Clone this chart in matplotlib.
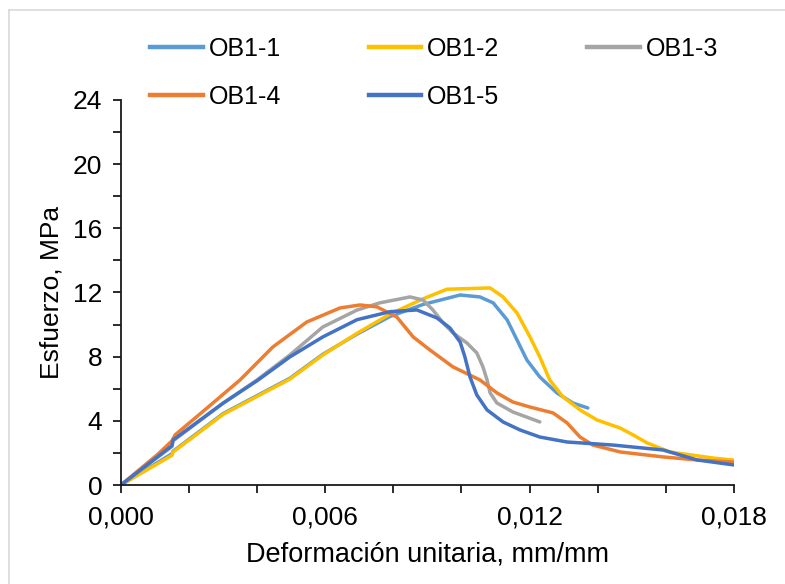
import matplotlib.pyplot as plt
from matplotlib.ticker import MultipleLocator, FuncFormatter
from matplotlib.lines import Line2D

plt.rcParams['font.family'] = ['Liberation Sans', 'DejaVu Sans']

# Curvas esfuerzo-deformación (deformación mm/mm, esfuerzo MPa)
x_ob1_1 = [0, 0.0015, 0.00153, 0.003, 0.00496, 0.00593, 0.00693, 0.0079, 0.00887,
           0.00996, 0.01054, 0.01093, 0.01134, 0.01163, 0.01192, 0.0123, 0.0128,
           0.01327, 0.01371]
y_ob1_1 = [0, 1.95, 2.1, 4.45, 6.65, 8.15, 9.4, 10.5, 11.25,
           11.84, 11.72, 11.35, 10.29, 9.04, 7.79, 6.73, 5.74,
           5.11, 4.8]

x_ob1_2 = [0, 0.0015, 0.00153, 0.003, 0.00496, 0.00593, 0.00693, 0.0079, 0.00887,
           0.00957, 0.01084, 0.01122, 0.01163, 0.01201, 0.0123, 0.01259, 0.01298,
           0.01348, 0.01398, 0.01466, 0.01504, 0.01545, 0.01612, 0.01739, 0.018]
y_ob1_2 = [0, 1.85, 2.05, 4.4, 6.6, 8.1, 9.45, 10.65, 11.6,
           12.2, 12.28, 11.72, 10.72, 9.23, 7.98, 6.55, 5.49,
           4.68, 4.05, 3.55, 3.12, 2.62, 2.06, 1.68, 1.55]

x_ob1_3 = [0, 0.0015, 0.00153, 0.003, 0.004, 0.00496, 0.00593, 0.00693, 0.0076,
           0.00849, 0.00887, 0.00916, 0.00946, 0.00975, 0.01016, 0.01045, 0.01063,
           0.01075, 0.01084, 0.01104, 0.01151, 0.0123]
y_ob1_3 = [0, 2.4, 2.75, 5.1, 6.55, 8.1, 9.85, 10.9, 11.35,
           11.72, 11.53, 10.91, 10.1, 9.48, 8.85, 8.23, 7.36,
           6.55, 5.74, 5.11, 4.55, 3.93]

x_ob1_4 = [0, 0.00106, 0.0015, 0.00159, 0.00253, 0.0035, 0.00446, 0.00546, 0.00643,
           0.00702, 0.00752, 0.0081, 0.00858, 0.00907, 0.00975, 0.01054, 0.01104,
           0.01151, 0.01201, 0.01269, 0.0131, 0.01348, 0.01386, 0.01466, 0.01592,
           0.01692, 0.018]
y_ob1_4 = [0, 1.87, 2.75, 3.12, 4.8, 6.55, 8.6, 10.16, 11.03,
           11.22, 11.1, 10.47, 9.23, 8.42, 7.36, 6.55, 5.74,
           5.17, 4.86, 4.49, 3.87, 2.99, 2.49, 2.06, 1.75,
           1.56, 1.43]

x_ob1_5 = [0, 0.0015, 0.00153, 0.003, 0.004, 0.00496, 0.00593, 0.00693, 0.0079,
           0.00869, 0.00928, 0.00966, 0.00996, 0.0101, 0.01025, 0.01045, 0.01075,
           0.01122, 0.01172, 0.0123, 0.0131, 0.01445, 0.01592, 0.01692, 0.018]
y_ob1_5 = [0, 2.45, 2.8, 5.1, 6.5, 7.98, 9.23, 10.3, 10.8,
           10.91, 10.41, 9.79, 8.91, 7.98, 6.73, 5.61, 4.68,
           3.93, 3.43, 2.99, 2.68, 2.49, 2.18, 1.56, 1.25]

series = [
    ('OB1-1', x_ob1_1, y_ob1_1, '#5B9BD5'),
    ('OB1-2', x_ob1_2, y_ob1_2, '#FFC000'),
    ('OB1-3', x_ob1_3, y_ob1_3, '#A5A5A5'),
    ('OB1-4', x_ob1_4, y_ob1_4, '#ED7D31'),
    ('OB1-5', x_ob1_5, y_ob1_5, '#4472C4'),
]

fig = plt.figure(figsize=(7.85, 5.84), dpi=100)
ax = fig.add_axes([0.154, 0.1695, 0.781, 0.6595])

for name, x, y, c in series:
    ax.plot(x, y, color=c, lw=2.5, solid_capstyle='round', solid_joinstyle='round')

ax.set_xlim(0, 0.018)
ax.set_ylim(0, 24)
ax.xaxis.set_major_locator(MultipleLocator(0.006))
ax.xaxis.set_minor_locator(MultipleLocator(0.002))
ax.yaxis.set_major_locator(MultipleLocator(4))
ax.yaxis.set_minor_locator(MultipleLocator(2))
ax.xaxis.set_major_formatter(FuncFormatter(lambda v, p: f'{v:.3f}'.replace('.', ',')))
ax.yaxis.set_major_formatter(FuncFormatter(lambda v, p: f'{v:.0f}'))

for s in ['top', 'right']:
    ax.spines[s].set_visible(False)
for s in ['left', 'bottom']:
    ax.spines[s].set_linewidth(1.3)
    ax.spines[s].set_color('#1a1a1a')

ax.tick_params(which='both', direction='out', length=5.5, width=1.3, color='#1a1a1a',
               labelsize=19)
ax.tick_params(axis='x', pad=9)
ax.tick_params(axis='y', pad=8)

ax.set_xlabel('Deformación unitaria, mm/mm', fontsize=19.5, labelpad=9)
ax.set_ylabel('Esfuerzo, MPa', fontsize=19, labelpad=7)

# orden por columnas para que las filas queden 1-2-3 / 4-5
order = [0, 3, 1, 4, 2]
handles = [Line2D([0], [0], color=series[i][3], lw=3.2) for i in order]
labels = [series[i][0] for i in order]
fig.legend(handles, labels, ncol=3, loc='upper left',
           bbox_to_anchor=(150 / 785, 1 - 37 / 584),
           frameon=False, fontsize=18, borderpad=0, borderaxespad=0,
           handlelength=2.1, handletextpad=0.25, columnspacing=3.5,
           labelspacing=0.95)

# marco claro alrededor del gráfico
fig.add_artist(Line2D([9 / 785, 9 / 785], [0, 1 - 10 / 584], color='#D9D9D9', lw=1.2))
fig.add_artist(Line2D([9 / 785, 1], [1 - 10 / 584, 1 - 10 / 584], color='#D9D9D9', lw=1.2))

fig.savefig('out.png', dpi=100)
